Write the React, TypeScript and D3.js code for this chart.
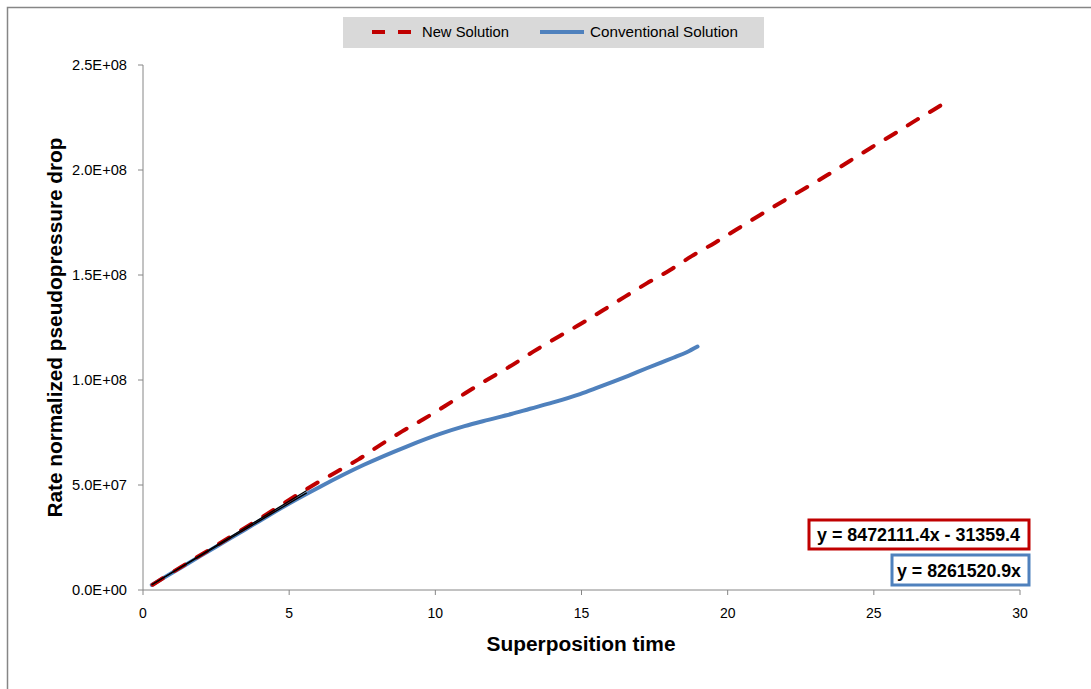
import React from "react";
import * as d3 from "d3";

// Superposition time vs rate-normalized pseudopressure drop
const newSolutionT = [0.33, 1, 2, 3, 4, 5.09, 5.83, 6.63, 7.37, 8.11, 8.85, 9.59, 10.33, 11.02, 11.76, 12.5, 13.35, 14.27, 15.01, 15.75, 16.49, 17.23, 18.03, 18.77, 19.57, 20.33, 21.11, 21.85, 22.65, 23.41, 24.19, 24.96, 25.73, 26.49, 27.27, 27.47];
const newSolutionDp = [2.5e6, 8.4e6, 1.69e7, 2.54e7, 3.4e7, 4.37e7, 5.0e7, 5.63e7, 6.22e7, 6.9e7, 7.54e7, 8.13e7, 8.76e7, 9.37e7, 1.0e8, 1.06e8, 1.135e8, 1.211e8, 1.27e8, 1.333e8, 1.397e8, 1.46e8, 1.524e8, 1.59e8, 1.654e8, 1.719e8, 1.786e8, 1.848e8, 1.913e8, 1.976e8, 2.044e8, 2.111e8, 2.175e8, 2.241e8, 2.306e8, 2.324e8];

const convSolutionT = [0.3, 1, 2, 3, 4, 5.0, 6.06, 7.54, 9.02, 10.16, 11.0, 11.81, 12.6, 13.24, 14.0, 14.95, 15.52, 16.09, 16.6, 17.23, 17.7, 18.14, 18.6, 18.97];
const convSolutionDp = [2.4e6, 8.2e6, 1.65e7, 2.47e7, 3.3e7, 4.12e7, 4.92e7, 5.95e7, 6.83e7, 7.43e7, 7.8e7, 8.1e7, 8.38e7, 8.63e7, 8.92e7, 9.33e7, 9.62e7, 9.92e7, 1.02e8, 1.056e8, 1.082e8, 1.106e8, 1.132e8, 1.159e8];

const xTicks = [0, 5, 10, 15, 20, 25, 30];
const yTicks = [0, 5e7, 1e8, 1.5e8, 2e8, 2.5e8];

const newFitSlope = 8472111.4;
const newFitIntercept = -31359.4;
const convFitSlope = 8261520.9;
const fitRange = [0.3, 5.6];

const legendLabels = ["New Solution", "Conventional Solution"];
const newFitLabel = "y = 8472111.4x - 31359.4";
const convFitLabel = "y = 8261520.9x";

const RED = "#c00000";
const BLUE = "#4f81bd";
const AXIS = "#868686";
const FONT = "'Liberation Sans', Arial, sans-serif";

function sci(v: number): string {
  if (v === 0) return "0.0E+00";
  const e = Math.floor(Math.log10(v));
  const m = v / Math.pow(10, e);
  return `${m.toFixed(1)}E+${String(e).padStart(2, "0")}`;
}

export default function App() {
  const x = d3.scaleLinear().domain([0, 30]).range([143, 1020]);
  const y = d3.scaleLinear().domain([0, 2.5e8]).range([590, 65]);

  const line = d3
    .line<[number, number]>()
    .x((d) => x(d[0]))
    .y((d) => y(d[1]))
    .curve(d3.curveMonotoneX);

  const newPts = newSolutionT.map((t, i) => [t, newSolutionDp[i]] as [number, number]);
  const convPts = convSolutionT.map((t, i) => [t, convSolutionDp[i]] as [number, number]);
  const newFitPts = fitRange.map((t) => [t, newFitSlope * t + newFitIntercept] as [number, number]);
  const convFitPts = fitRange.map((t) => [t, convFitSlope * t] as [number, number]);

  const straight = d3
    .line<[number, number]>()
    .x((d) => x(d[0]))
    .y((d) => y(d[1]));

  return (
    <svg
      width={1091}
      height={689}
      style={{ position: "absolute", left: 0, top: 0, background: "#fff" }}
      fontFamily={FONT}
    >
      {/* chart frame */}
      <rect x={7.5} y={7.5} width={1200} height={800} fill="#fff" stroke={AXIS} strokeWidth={1.5} />

      {/* legend */}
      <rect x={343} y={17} width={421} height={31} fill="#d9d9d9" />
      <line x1={372} x2={413} y1={32} y2={32} stroke={RED} strokeWidth={4} strokeDasharray="13 13" />
      <text x={422} y={37} fontSize={14.5} fill="#000" textLength={87} lengthAdjust="spacingAndGlyphs">{legendLabels[0]}</text>
      <line x1={540} x2={584} y1={32} y2={32} stroke={BLUE} strokeWidth={4} />
      <text x={590} y={37} fontSize={14.5} fill="#000" textLength={148} lengthAdjust="spacingAndGlyphs">{legendLabels[1]}</text>

      {/* axes */}
      <line x1={x(0)} x2={x(0)} y1={y(2.5e8)} y2={y(0)} stroke={AXIS} />
      <line x1={x(0)} x2={x(30)} y1={y(0)} y2={y(0)} stroke={AXIS} />
      {yTicks.map((v) => (
        <g key={`y${v}`}>
          <line x1={x(0) - 5} x2={x(0)} y1={y(v)} y2={y(v)} stroke={AXIS} />
          <text x={127} y={y(v)} dy="0.36em" fontSize={14} textAnchor="end" fill="#000" textLength={55} lengthAdjust="spacingAndGlyphs">
            {sci(v)}
          </text>
        </g>
      ))}
      {xTicks.map((v) => (
        <g key={`x${v}`}>
          <line x1={x(v)} x2={x(v)} y1={y(0)} y2={y(0) + 5} stroke={AXIS} />
          <text x={x(v)} y={618} fontSize={14} textAnchor="middle" fill="#000">
            {v}
          </text>
        </g>
      ))}

      {/* axis titles */}
      <text
        x={581}
        y={651}
        fontSize={20}
        fontWeight="bold"
        textAnchor="middle"
        textLength={189}
        lengthAdjust="spacingAndGlyphs"
      >
        Superposition time
      </text>
      <text
        transform={`translate(62,${(y(0) + y(2.5e8)) / 2}) rotate(-90)`}
        fontSize={20}
        fontWeight="bold"
        textAnchor="middle"
        textLength={380}
        lengthAdjust="spacingAndGlyphs"
      >
        Rate normalized pseudopressure drop
      </text>

      {/* series */}
      <path d={line(convPts) || ""} fill="none" stroke={BLUE} strokeWidth={4} strokeLinecap="round" strokeLinejoin="round" />
      <path
        d={line(newPts) || ""}
        fill="none"
        stroke={RED}
        strokeWidth={4}
        strokeLinecap="round"
        strokeDasharray="12 14"
      />

      {/* linear fits */}
      <path d={straight(convFitPts) || ""} fill="none" stroke="#000" strokeWidth={1.3} />
      <path d={straight(newFitPts) || ""} fill="none" stroke="#000" strokeWidth={1.3} />

      {/* fit equations */}
      <rect x={809} y={520} width={220} height={29} fill="#fff" stroke={RED} strokeWidth={3} />
      <text x={1020} y={541} fontSize={18} fontWeight="bold" textAnchor="end" textLength={203} lengthAdjust="spacingAndGlyphs">
        {newFitLabel}
      </text>
      <rect x={892} y={555} width={137} height={30} fill="#fff" stroke={BLUE} strokeWidth={3} />
      <text x={1021} y={577} fontSize={18} fontWeight="bold" textAnchor="end" textLength={124} lengthAdjust="spacingAndGlyphs">
        {convFitLabel}
      </text>
    </svg>
  );
}
